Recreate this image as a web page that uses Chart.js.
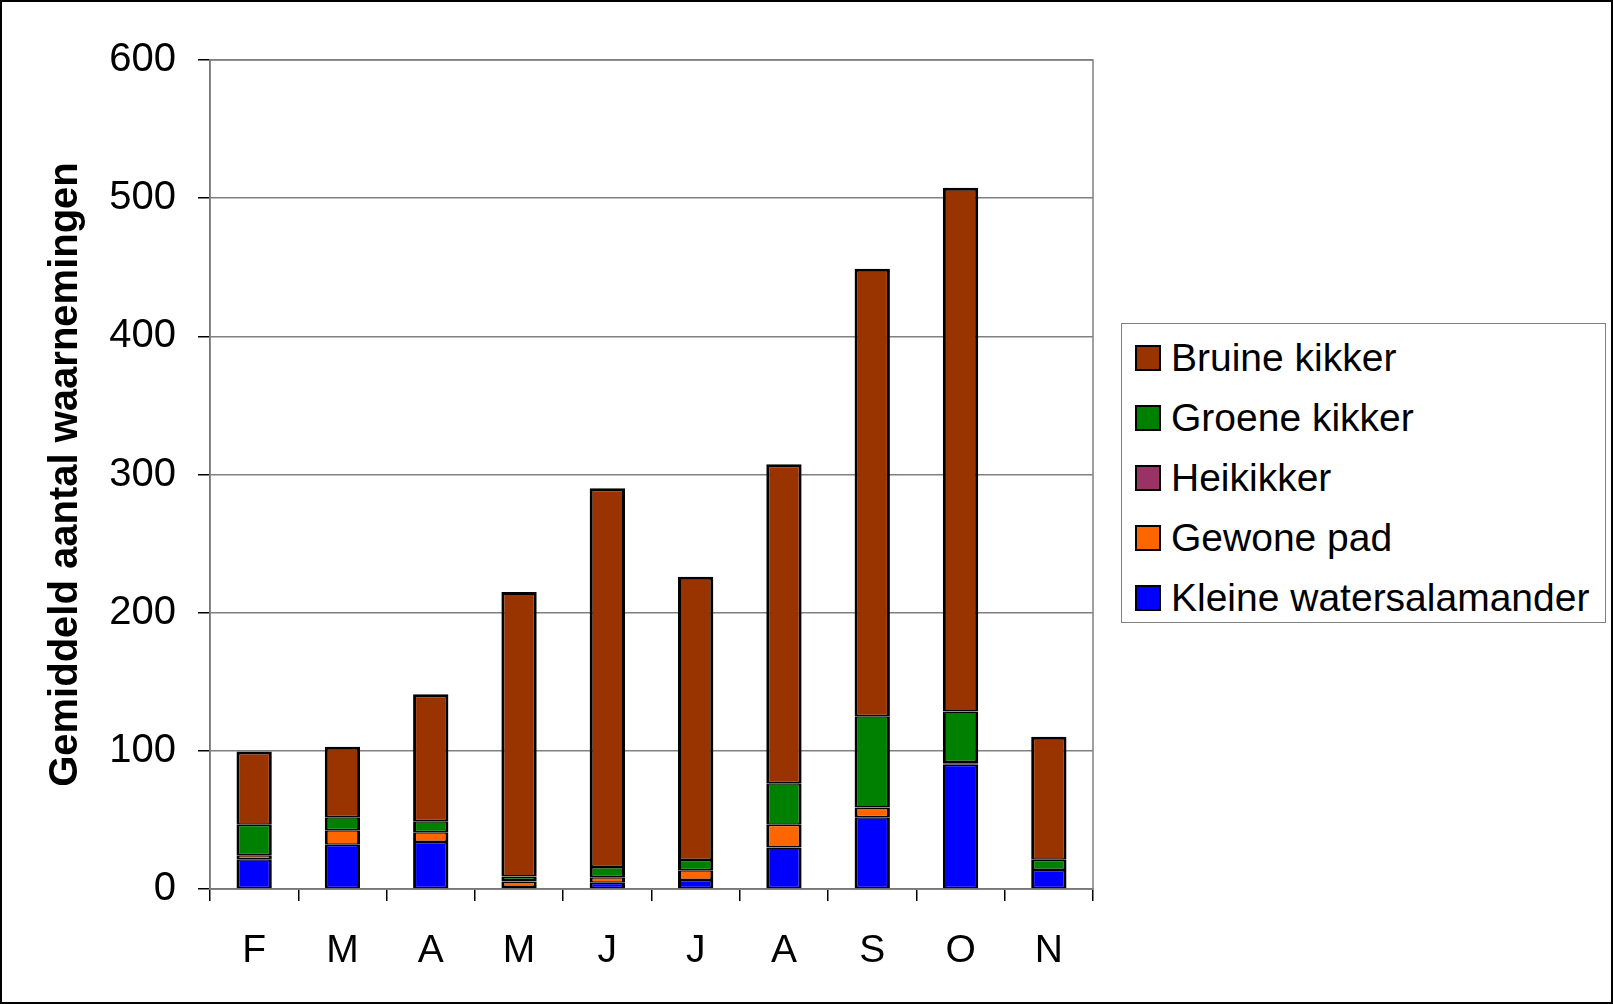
<!DOCTYPE html>
<html>
<head>
<meta charset="utf-8">
<script src="https://cdn.jsdelivr.net/npm/chart.js@4.4.0/dist/chart.umd.min.js"></script>
<style>
  body { margin: 0; background: #fff; }
  #wrap { position: relative; width: 1613px; height: 1004px; }
  #legend {
    position: absolute; left: 1121px; top: 323px; width: 483px; height: 298px;
    border: 1.5px solid #808080; background: #fff;
    font-family: "Liberation Sans", Arial, sans-serif; font-size: 39px; color: #000;
  }
  .item { position: absolute; left: 0; height: 40px; display: flex; align-items: center; }
  .sw { width: 22px; height: 22px; border: 2px solid #000; margin-left: 13px; margin-right: 10px; }
</style>
</head>
<body>
<div id="wrap">
  <canvas id="chart" width="1613" height="1004"></canvas>
  <div id="legend"></div>
</div>
<script>
var months = ["F", "M", "A", "M", "J", "J", "A", "S", "O", "N"];
var yTicks = [0, 100, 200, 300, 400, 500, 600];

var kleine_watersalamander = [21.5, 32, 34, 1.5, 4.5, 6.5, 30, 52, 90, 13.7];
var gewone_pad = [3, 10.5, 7, 4, 4, 7, 16.5, 7, 1, 0];
var heikikker = [0, 0, 0, 1, 0, 0, 0, 0, 1, 0];
var groene_kikker = [22, 9.5, 8, 2.5, 7.5, 7.5, 30, 66, 36.5, 7.5];
var bruine_kikker = [53, 51, 92, 206, 274, 205, 231, 324, 379, 89];

var series = [
    { label: "Kleine watersalamander", data: kleine_watersalamander, color: "#0000ff" },
    { label: "Gewone pad", data: gewone_pad, color: "#ff6600" },
    { label: "Heikikker", data: heikikker, color: "#993366" },
    { label: "Groene kikker", data: groene_kikker, color: "#008000" },
    { label: "Bruine kikker", data: bruine_kikker, color: "#993300" }
];

// legend box, top item = last series
var legend = document.getElementById("legend");
series.slice().reverse().forEach((s, i) => {
    var row = document.createElement("div");
    row.className = "item";
    row.style.top = (14 + i * 60) + "px";
    row.innerHTML = '<span class="sw" style="background:' + s.color + '"></span><span>' + s.label + '</span>';
    legend.appendChild(row);
});

const frame = {
    id: "frame",
    beforeDatasetsDraw(chart) {
        const { ctx, chartArea } = chart;
        ctx.save();
        ctx.strokeStyle = "#808080";
        ctx.lineWidth = 1.5;
        ctx.strokeRect(chartArea.left, chartArea.top, chartArea.right - chartArea.left, chartArea.bottom - chartArea.top);
        ctx.restore();
    },
    afterDraw(chart) {
        const ctx = chart.ctx;
        ctx.save();
        ctx.strokeStyle = "#000";
        ctx.lineWidth = 2;
        ctx.strokeRect(1, 1, chart.width - 2, chart.height - 2);
        ctx.restore();
    }
};

new Chart(document.getElementById("chart"), {
    type: "bar",
    data: {
        labels: months,
        datasets: series.map((s, i) => ({
            label: s.label,
            data: s.data,
            backgroundColor: s.color,
            borderColor: "#000",
            // adjoining segments share one line, top of the stack gets the full width
            borderWidth: { left: 3, right: 3, bottom: 1.5, top: i == series.length - 1 ? 3 : 1.5 },
            borderSkipped: false,
            barPercentage: 0.4,
            categoryPercentage: 1
        }))
    },
    options: {
        responsive: false,
        animation: false,
        layout: { padding: { left: 0, top: 60, right: 520, bottom: 0 } },
        plugins: { legend: { display: false }, tooltip: { enabled: false } },
        scales: {
            x: {
                stacked: true,
                afterFit: s => { s.height = 115; },
                grid: { offset: true, drawOnChartArea: false, tickLength: 12, tickColor: "#000", lineWidth: 1.5 },
                border: { color: "#606060", width: 1.5 },
                ticks: { color: "#000", padding: 27, font: { family: "Liberation Sans", size: 39 } }
            },
            y: {
                stacked: true,
                min: 0,
                max: 600,
                afterFit: s => { s.width = 210; },
                afterBuildTicks: s => { s.ticks = yTicks.map(v => ({ value: v })); },
                grid: { color: "#808080", lineWidth: 1.5, tickLength: 12, tickColor: "#000" },
                border: { color: "#606060", width: 1.5 },
                ticks: { color: "#000", padding: 22, font: { family: "Liberation Sans", size: 40 } },
                title: {
                    display: true,
                    text: "Gemiddeld aantal waarnemingen",
                    color: "#000",
                    padding: { top: 42, bottom: 0 },
                    font: { family: "Liberation Sans", size: 40, weight: "bold" }
                }
            }
        }
    },
    plugins: [frame]
});
</script>
</body>
</html>
